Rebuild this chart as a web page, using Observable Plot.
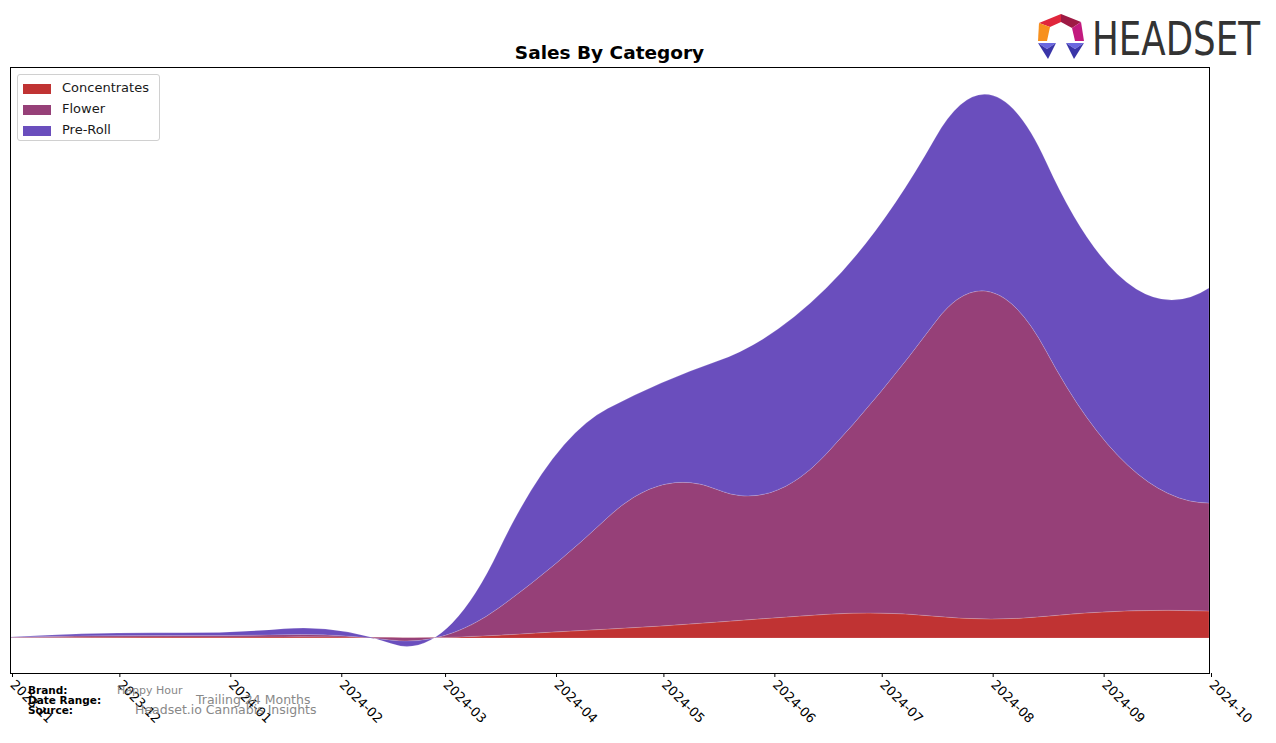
<!DOCTYPE html>
<html>
<head>
<meta charset="utf-8">
<script src="https://cdn.jsdelivr.net/npm/d3@7"></script>
<script src="https://cdn.jsdelivr.net/npm/@observablehq/plot@0.6"></script>
<style>
  html, body { margin: 0; padding: 0; background: #fff; }
  #wrap { position: relative; width: 1276px; height: 743px; overflow: hidden; font-family: "DejaVu Sans", sans-serif; }
  #chart { position: absolute; left: 0; top: 0; }
  .title { position: absolute; left: 10px; width: 1199px; top: 42px; text-align: center; font-weight: bold; font-size: 18.5px; color: #000; }
  .legend { position: absolute; left: 17px; top: 74px; width: 141px; height: 65px; border: 1px solid #d0d0d0; border-radius: 3px; background: #fff; }
  .legend .row { position: absolute; left: 5px; height: 14px; font-size: 13px; color: #1a1a1a; white-space: nowrap; }
  .legend .sw { position: absolute; left: 0; top: 2px; width: 28px; height: 10px; }
  .legend .lbl { position: absolute; left: 39px; top: -2px; }
  .foot { position: absolute; font-size: 10.5px; white-space: nowrap; }
  .foot.b { font-weight: bold; color: #000; }
  .foot.v { color: #888; }
  #logo { position: absolute; left: 1030px; top: 8px; overflow: visible; }
</style>
</head>
<body>
<div id="wrap">
  <div id="chart"></div>
  <div class="title">Sales By Category</div>
  <div class="legend" id="legend"></div>
  <div class="foot b" style="left:28px; top:684px;">Brand:</div>
  <div class="foot b" style="left:28px; top:694px;">Date Range:</div>
  <div class="foot b" style="left:28px; top:704px;">Source:</div>
  <div class="foot v" style="left:117px; top:684px; font-size:11px;">Happy Hour</div>
  <div class="foot v" style="left:196px; top:692px; font-size:12.5px;">Trailing 24 Months</div>
  <div class="foot v" style="left:135px; top:702px; font-size:12.5px;">Headset.io Cannabis Insights</div>
  <svg id="logo" width="244" height="64" viewBox="0 0 244 64">
    <polygon points="9,15 31,6 31,14 20,19" fill="#e0263c"/>
    <polygon points="31,6 51,14 42,20 31,14" fill="#9e1a44"/>
    <polygon points="51,14 54,33 45,33 42,20" fill="#c21a7e"/>
    <polygon points="9,15 20,19 17,33 8,33" fill="#f7901e"/>
    <polygon points="8,35 26,35 17,41" fill="#6b68e0"/>
    <polygon points="8,35 17,41 26,35 18,51" fill="#3a35a8"/>
    <polygon points="36,35 54,35 45,41" fill="#6b68e0"/>
    <polygon points="36,35 45,41 54,35 44,51" fill="#3a35a8"/>
    <text x="62" y="47" font-family="'Liberation Sans Narrow','DejaVu Sans Condensed','Liberation Sans',sans-serif" font-size="46" fill="#333" textLength="168" lengthAdjust="spacingAndGlyphs">HEADSET</text>
  </svg>
</div>
<script>
// ---- data ----
const months = ["2023-11","2023-12","2024-01","2024-02","2024-03","2024-04","2024-05","2024-06","2024-07","2024-08","2024-09","2024-10"];
const categories = ["Concentrates", "Flower", "Pre-Roll"];
const concentrates = [0.3, 1, 1, 1, 0.5, 6, 12, 20, 25, 19, 26, 27];
const flower       = [0.4, 1.5, 1.5, 1.5, 1.5, 67, 141, 126, 220, 327, 175, 108];
const preRoll      = [0.3, 2.5, 3.5, 5, 4.5, 108, 102, 159, 168, 197, 180, 215];
const colors = ["#c03333", "#964078", "#6a4ebd"];

const seriesValues = {"Concentrates": concentrates, "Flower": flower, "Pre-Roll": preRoll};
const parseMonth = d3.utcParse("%Y-%m");
const rows = [];
for (const c of categories) {
  months.forEach((m, i) => rows.push({date: parseMonth(m), category: c, value: seriesValues[c][i]}));
}

// ---- quadratic interpolating spline curve (knots at midpoints) ----
function solve(A, b) {
  const n = b.length;
  const M = A.map((r, i) => [...r, b[i]]);
  for (let col = 0; col < n; col++) {
    let piv = col;
    for (let r = col + 1; r < n; r++) if (Math.abs(M[r][col]) > Math.abs(M[piv][col])) piv = r;
    [M[col], M[piv]] = [M[piv], M[col]];
    for (let r = 0; r < n; r++) {
      if (r === col) continue;
      const f = M[r][col] / M[col][col];
      if (f === 0) continue;
      for (let k = col; k <= n; k++) M[r][k] -= f * M[col][k];
    }
  }
  return M.map((r, i) => r[n] / r[i]);
}
function drawQuad(ctx, X, Y) {
  const n = X.length;
  const s = X[n - 1] >= X[0] ? 1 : -1;
  const u = X.map(v => v * s);
  const t = [u[0], u[0], u[0]];
  for (let i = 1; i <= n - 3; i++) t.push((u[i] + u[i + 1]) / 2);
  t.push(u[n - 1], u[n - 1], u[n - 1]);
  const m = t.length;
  function basis(x) {
    let B = new Array(m - 1).fill(0);
    let found = false;
    for (let i = 0; i < m - 1; i++) if (t[i] <= x && x < t[i + 1]) { B[i] = 1; found = true; }
    if (!found) for (let i = m - 2; i >= 0; i--) if (t[i] < t[i + 1]) { B[i] = 1; break; }
    for (let k = 1; k <= 2; k++) {
      const NB = new Array(m - 1 - k).fill(0);
      for (let i = 0; i < m - 1 - k; i++) {
        const d1 = t[i + k] - t[i], d2 = t[i + k + 1] - t[i + 1];
        let a = 0, b = 0;
        if (d1 > 0) a = (x - t[i]) / d1 * B[i];
        if (d2 > 0) b = (t[i + k + 1] - x) / d2 * B[i + 1];
        NB[i] = a + b;
      }
      B = NB;
    }
    return B;
  }
  const A = u.map(x => basis(x));
  const c = solve(A, Y.slice());
  const f = x => { const b = basis(x); let v = 0; for (let j = 0; j < n; j++) v += b[j] * c[j]; return v; };
  const br = Array.from(new Set(t)).sort((a, b) => a - b);
  for (let i = 0; i < br.length - 1; i++) {
    const a = br[i], b = br[i + 1], mid = (a + b) / 2;
    const ya = f(a), yb = f(b), ym = f(mid);
    ctx.quadraticCurveTo(mid * s, 2 * ym - (ya + yb) / 2, b * s, yb);
  }
}
function QuadInterp(context) { this._context = context; }
QuadInterp.prototype = {
  areaStart() { this._line = 0; },
  areaEnd() { this._line = NaN; },
  lineStart() { this._x = []; this._y = []; },
  point(x, y) { this._x.push(+x); this._y.push(+y); },
  lineEnd() {
    const X = this._x, Y = this._y, n = X.length;
    if (n) {
      this._line ? this._context.lineTo(X[0], Y[0]) : this._context.moveTo(X[0], Y[0]);
      if (n < 3) { for (let i = 1; i < n; i++) this._context.lineTo(X[i], Y[i]); }
      else drawQuad(this._context, X, Y);
    }
    if (this._line || (this._line !== 0 && n === 1)) this._context.closePath();
    this._line = 1 - this._line;
    this._x = this._y = null;
  }
};
const curveQuad = ctx => new QuadInterp(ctx);

// ---- chart ----
const tickDates = months.map(parseMonth);
const chart = Plot.plot({
  width: 1276,
  height: 743,
  marginLeft: 10,
  marginRight: 67,
  marginTop: 67,
  marginBottom: 70,
  style: {fontFamily: "DejaVu Sans, sans-serif", fontSize: "13px", color: "#000", background: "transparent"},
  x: {type: "utc", domain: [tickDates[0], tickDates[tickDates.length - 1]]},
  y: {domain: [-35, 571], axis: null},
  color: {domain: categories, range: colors},
  marks: [
    Plot.areaY(rows, {x: "date", y: "value", fill: "category", z: "category", order: categories, curve: curveQuad, stroke: "#ffffff", strokeOpacity: 0.25, strokeWidth: 0.6}),
    Plot.frame({stroke: "#000", strokeWidth: 1}),
    Plot.axisX({ticks: tickDates, tickFormat: d3.utcFormat("%Y-%m"), tickSize: 4, tickRotate: 45, textAnchor: "start", tickPadding: 5, dx: 2, fontSize: 13, label: null, stroke: "#000", fill: "#000"})
  ]
});
document.getElementById("chart").appendChild(chart);

// legend
const leg = document.getElementById("legend");
categories.forEach((c, i) => {
  const r = document.createElement("div");
  r.className = "row";
  r.style.top = (7 + i * 21) + "px";
  r.innerHTML = `<span class="sw" style="background:${colors[i]}"></span><span class="lbl">${c}</span>`;
  leg.appendChild(r);
});
</script>
</body>
</html>
